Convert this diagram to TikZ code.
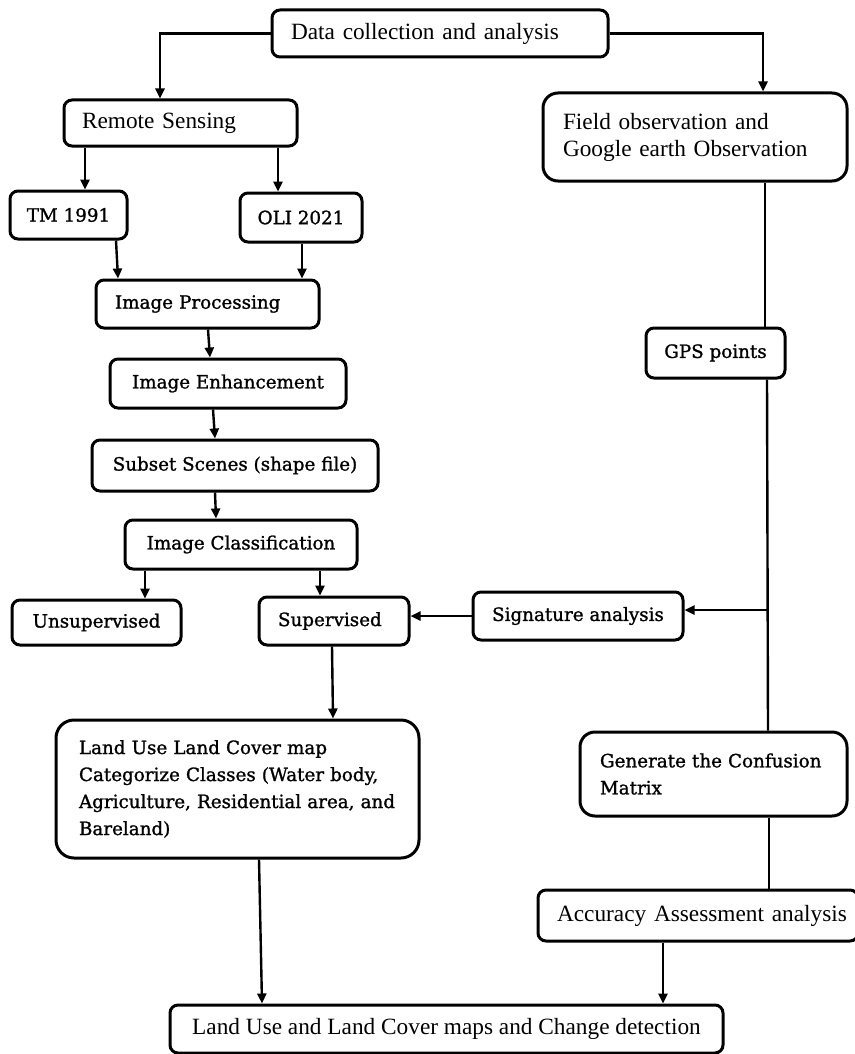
\documentclass[tikz,border=0pt]{standalone}
\usepackage{fontspec}
\setmainfont{Liberation Serif}
\newfontfamily\wf[FakeBold=1.2]{DejaVu Serif}
\usetikzlibrary{arrows.meta}
\begin{document}
\begin{tikzpicture}[x=1pt,y=-1pt,
  box/.style={draw, line width=3pt, rounded corners=8pt, inner sep=0pt, anchor=center, fill=white},
  tr/.style={font=\fontsize{23.3}{27}\selectfont},
  wd/.style={font=\wf\fontsize{18.3}{27}\selectfont},
  arr/.style={line width=2.4pt, -{Triangle[length=10pt,width=9pt]}},
  ln/.style={line width=2.4pt}]
\useasboundingbox (0,0) rectangle (854,1054);
\node[box,tr,minimum width=336pt,minimum height=47pt,align=left,text width=298pt,inner xsep=19pt] (data) at (440,33.5) {Data collection and analysis};
\node[box,tr,minimum width=233pt,minimum height=46pt,align=left,text width=197pt,inner xsep=18pt] (remote) at (180.5,123) {Remote Sensing};
\node[box,tr,rounded corners=15pt,minimum width=304pt,minimum height=88pt,align=left,text width=264pt,inner xsep=20pt] (field) at (695,137) {\mbox{Field observation and}\\\mbox{Google earth Observation}};
\node[box,wd,minimum width=117pt,minimum height=48pt] (tm) at (68.5,215) {TM 1991};
\node[box,wd,minimum width=122pt,minimum height=49pt] (oli) at (301,217.5) {OLI 2021};
\node[box,wd,minimum width=223pt,minimum height=48pt,align=left,text width=185pt,inner xsep=19pt] (ip) at (207.5,304) {Image Processing};
\node[box,wd,minimum width=236pt,minimum height=49pt] (ie) at (228,383.5) {Image Enhancement};
\node[box,wd,minimum width=286pt,minimum height=51pt] (subset) at (235,465.5) {Subset Scenes (shape file)};
\node[box,wd,minimum width=232pt,minimum height=49pt] (ic) at (241,544.5) {Image Classification};
\node[box,wd,minimum width=169pt,minimum height=45pt] (unsup) at (96.5,622.5) {Unsupervised};
\node[box,wd,minimum width=150pt,minimum height=48pt,align=left,text width=112pt,inner xsep=19pt] (sup) at (334,621) {Supervised};
\node[box,wd,minimum width=210pt,minimum height=48pt] (sig) at (578,616) {Signature analysis};
\node[box,wd,minimum width=139pt,minimum height=50pt] (gps) at (715.5,353) {GPS points};
\node[box,wd,rounded corners=18pt,minimum width=363pt,minimum height=138pt,align=left,text width=317pt,inner xsep=23pt] (lulc) at (237.5,789) {\mbox{Land Use Land Cover map}\\\mbox{Categorize Classes (Water body,}\\\mbox{Agriculture, Residential area, and}\\\mbox{Bareland)}};
\node[box,wd,rounded corners=15pt,minimum width=267pt,minimum height=84pt,align=left,text width=227pt,inner xsep=20pt] (gen) at (713.5,774) {\mbox{Generate the Confusion}\\Matrix};
\node[box,tr,minimum width=320pt,minimum height=51pt,align=left,text width=282pt,inner xsep=19pt] (acc) at (698,915.5) {\mbox{Accuracy Assessment analysis}};
\node[box,tr,minimum width=553pt,minimum height=48pt] (final) at (446.5,1029) {Land Use and Land Cover maps and Change detection};
% connectors
\draw[arr] (data.west) -| ([xshift=-20.5pt]remote.north);
\draw[arr] (data.east) -| ([xshift=68pt]field.north);
\draw[arr] ([xshift=-95.5pt]remote.south) -- ([xshift=16.5pt]tm.north);
\draw[arr] ([xshift=97.5pt]remote.south) -- ([xshift=-23pt]oli.north);
\draw[arr] ([xshift=47.5pt]tm.south) -- ([xshift=-89.5pt]ip.north);
\draw[arr] ([xshift=1pt]oli.south) -- ([xshift=94.5pt]ip.north);
\draw[arr] ([xshift=0.5pt]ip.south) -- ([xshift=-18pt]ie.north);
\draw[arr] ([xshift=-15pt]ie.south) -- ([xshift=-20pt]subset.north);
\draw[arr] ([xshift=-20pt]subset.south) -- ([xshift=-25pt]ic.north);
\draw[arr] ([xshift=-96pt]ic.south) -- ([xshift=48.5pt]unsup.north);
\draw[arr] ([xshift=79pt]ic.south) -- ([xshift=-14pt]sup.north);
\draw[arr] ([xshift=-2pt]sup.south) -- ([xshift=95.5pt]lulc.north);
\draw[ln] ([xshift=70pt]field.south) -- ([xshift=49.5pt]gps.north);
\draw[ln] ([xshift=51.5pt]gps.south) -- ([xshift=54.5pt]gen.north);
\coordinate (br) at (767,610);
\draw[arr] (br) -- (br -| sig.east);
\draw[arr] (sig.west) -- (sig.west -| sup.east);
\draw[ln] ([xshift=55.5pt]gen.south) -- ([xshift=71pt]acc.north);
\draw[arr] ([xshift=-35pt]acc.south) -- ([xshift=216.5pt]final.north);
\draw[arr] ([xshift=21.5pt]lulc.south) -- ([xshift=-184.5pt]final.north);
\end{tikzpicture}
\end{document}
